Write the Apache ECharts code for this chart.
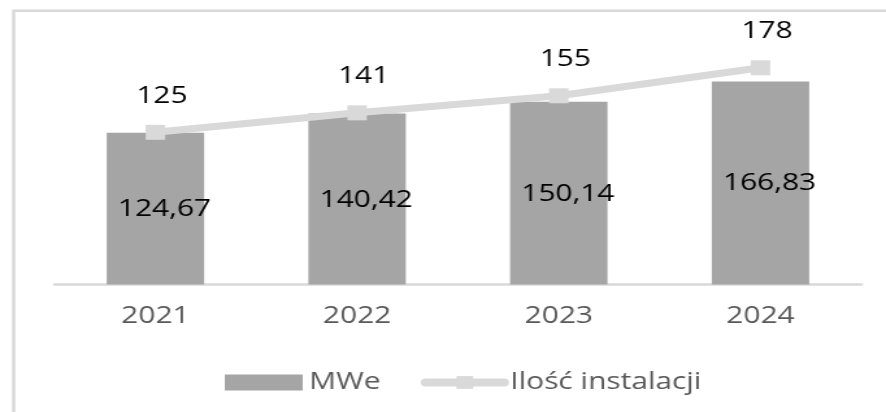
<!DOCTYPE html>
<html>
<head>
<meta charset="utf-8">
<script src="https://cdn.jsdelivr.net/npm/echarts@6/dist/echarts.min.js"></script>
<style>
  html, body { margin: 0; padding: 0; background: #fff; }
  #wrap { width: 886px; height: 412px; overflow: hidden; }
  /* the original picture is stretched sideways, so draw narrow and stretch */
  #chart { width: 682px; height: 412px; transform: scaleX(1.2991); transform-origin: 0 0; }
</style>
</head>
<body>
<div id="wrap"><div id="chart"></div></div>
<script>
const categories = ["2021", "2022", "2023", "2024"];
const mweValues = [124.67, 140.42, 150.14, 166.83];
const installCounts = [125, 141, 155, 178];
const seriesNames = ["MWe", "Ilość instalacji"];

const font = "Open Sans";

const toPl = (v) => v.toFixed(2).replace(".", ",");

const chart = echarts.init(document.getElementById("chart"), null, { renderer: "canvas" });

chart.setOption({
  animation: false,
  textStyle: { fontFamily: font },
  graphic: [{
    type: "rect",
    shape: { x: 10.5, y: 10.7, width: 800, height: 600 },
    style: { fill: "none", stroke: "#d9d9d9", lineWidth: 2.5 },
    silent: true
  }],
  grid: { left: 42, right: 19, top: 41, bottom: 127.5 },
  legend: {
    left: 168,
    top: 366,
    itemWidth: 60,
    itemHeight: 16,
    itemGap: 31,
    data: [
      { name: seriesNames[0], icon: "rect" },
      { name: seriesNames[1], lineStyle: { width: 8, cap: "round", color: "#d9d9d9" } }
    ],
    textStyle: { fontFamily: font, fontSize: 23, color: "#595959" }
  },
  xAxis: {
    type: "category",
    data: categories,
    axisTick: { show: false },
    axisLine: { lineStyle: { color: "#d9d9d9", width: 2.5 } },
    axisLabel: { margin: 20, fontFamily: font, fontSize: 23, color: "#595959" }
  },
  yAxis: {
    type: "value",
    min: 0,
    max: 200,
    show: false,
    splitLine: { show: false }
  },
  series: [
    {
      name: seriesNames[0],
      type: "bar",
      data: mweValues,
      barWidth: 75,
      itemStyle: { color: "#a5a5a5" },
      label: {
        show: true,
        position: "inside",
        offset: [7, 1],
        formatter: (p) => toPl(p.value),
        fontFamily: font,
        fontSize: 23,
        color: "#000"
      }
    },
    {
      name: seriesNames[1],
      type: "line",
      data: installCounts,
      symbol: "rect",
      symbolSize: 15,
      lineStyle: { color: "#d9d9d9", width: 7, cap: "round" },
      itemStyle: { color: "#d9d9d9" },
      z: 5,
      label: {
        show: true,
        position: "top",
        distance: 17,
        offset: [5, 0],
        fontFamily: font,
        fontSize: 23,
        color: "#000"
      }
    }
  ]
});
</script>
</body>
</html>
